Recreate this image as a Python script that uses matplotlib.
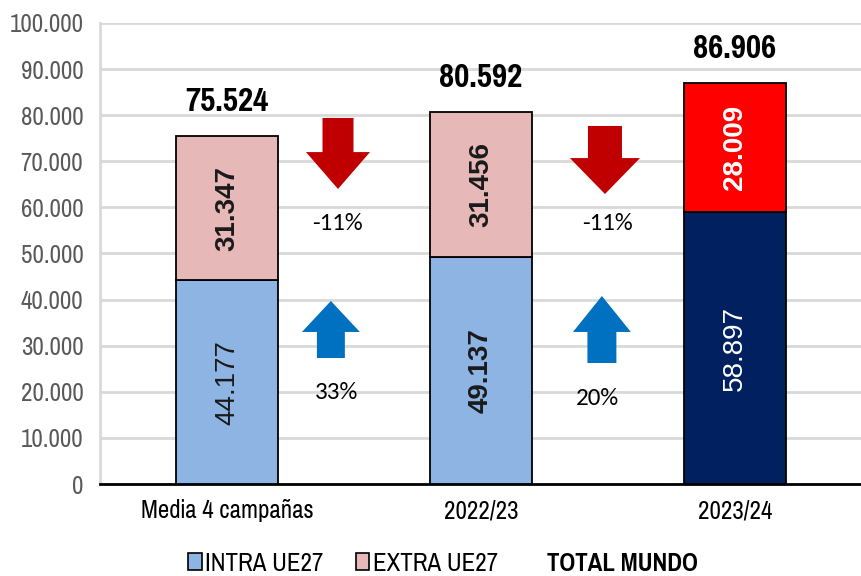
import matplotlib
matplotlib.use("Agg")
import matplotlib.pyplot as plt
from matplotlib.patches import FancyArrow, Patch
from matplotlib.ticker import FuncFormatter, MultipleLocator

# ---- data ----
categories = ["Media 4 campañas", "2022/23", "2023/24"]
intra_ue27 = [44177, 49137, 58897]
extra_ue27 = [31347, 31456, 28009]
total_mundo = [75524, 80592, 86906]
pct_extra = ["-11%", "-11%"]
pct_intra = ["33%", "20%"]
series_names = ["INTRA UE27", "EXTRA UE27", "TOTAL MUNDO"]

# ---- style ----
NARROW = ["Nimbus Sans Narrow", "Pragati Narrow", "Archivo Narrow", "Roboto Condensed",
          "Liberation Sans", "DejaVu Sans"]
REG = ["Arimo", "Liberation Sans", "DejaVu Sans"]
CAL = ["Carlito", "Lato", "DejaVu Sans"]
intra_colors = ["#8EB4E3", "#8EB4E3", "#002060"]
extra_colors = ["#E6B9B8", "#E6B9B8", "#FF0000"]
intra_text = ["#1a1a1a", "#1a1a1a", "white"]
extra_text = ["#1a1a1a", "#1a1a1a", "white"]
intra_weight = ["normal", "bold", "normal"]
extra_weight = ["bold", "bold", "bold"]

fig = plt.figure(figsize=(8.62, 5.76), dpi=100)
ax = fig.add_axes([100 / 862, 1 - 484 / 576, 762 / 862, (484 - 23) / 576])

x = list(range(len(categories)))
ax.bar(x, intra_ue27, width=0.4, color=intra_colors, edgecolor="black", linewidth=1.3, zorder=3)
ax.bar(x, extra_ue27, width=0.4, bottom=intra_ue27, color=extra_colors,
       edgecolor="black", linewidth=1.3, zorder=3)

for i in x:
    ax.text(i, intra_ue27[i] / 2, f"{intra_ue27[i]:,}".replace(",", "."), rotation=90,
            ha="center", va="center", fontsize=20, family=REG, color=intra_text[i],
            fontweight=intra_weight[i], zorder=4)
    ax.text(i, intra_ue27[i] + extra_ue27[i] / 2, f"{extra_ue27[i]:,}".replace(",", "."),
            rotation=90, ha="center", va="center", fontsize=20, family=REG,
            color=extra_text[i], fontweight=extra_weight[i], zorder=4)
    ax.annotate(f"{total_mundo[i]:,}".replace(",", "."), (i, total_mundo[i]),
                xytext=(0, 18), textcoords="offset points", ha="center", va="baseline",
                fontsize=26, fontweight="bold", family=NARROW, color="black")

# arrows (layout decorations)
red_arrows = [(0.437, 79400, -15400, 0.122, 0.252, 8000),
              (1.488, 77660, -14760, 0.134, 0.276, 7800)]
blue_arrows = [(0.409, 27330, 12370, 0.110, 0.228, 6720),
               (1.476, 26250, 14530, 0.114, 0.228, 7800)]
for (ax0, y0, dy, w, hw, hl) in red_arrows:
    ax.add_patch(FancyArrow(ax0, y0, 0, dy, width=w, head_width=hw, head_length=hl,
                            length_includes_head=True, color="#C00000", lw=0, zorder=4))
for (ax0, y0, dy, w, hw, hl) in blue_arrows:
    ax.add_patch(FancyArrow(ax0, y0, 0, dy, width=w, head_width=hw, head_length=hl,
                            length_includes_head=True, color="#0070C0", lw=0, zorder=4))

pct_extra_pos = [(0.433, 56400), (1.496, 56400)]
pct_intra_pos = [(0.433, 19740), (1.457, 18650)]
for lab, (px, py) in zip(pct_extra, pct_extra_pos):
    ax.text(px, py, lab, ha="center", va="center", fontsize=18, family=CAL, color="black")
for lab, (px, py) in zip(pct_intra, pct_intra_pos):
    ax.text(px, py, lab, ha="center", va="center", fontsize=18, family=CAL, color="black")

ax.set_xlim(-0.5, 2.5)
ax.set_ylim(0, 100000)
ax.yaxis.set_major_locator(MultipleLocator(10000))
ax.yaxis.set_major_formatter(FuncFormatter(lambda v, p: f"{v:,.0f}".replace(",", ".")))
ax.grid(axis="y", color="#d9d9d9", linewidth=2, zorder=0)
ax.set_axisbelow(True)
ax.set_xticks(x)
ax.set_xticklabels(categories)
ax.tick_params(axis="both", length=0)
ax.tick_params(axis="y", pad=12, labelcolor="#595959", labelsize=19.5)
ax.tick_params(axis="x", pad=11, labelcolor="black", labelsize=19.5)
for lab in ax.get_yticklabels() + ax.get_xticklabels():
    lab.set_family(NARROW)
for s in ["top", "right"]:
    ax.spines[s].set_visible(False)
ax.spines["left"].set_color("#d9d9d9")
ax.spines["left"].set_linewidth(2)
ax.spines["bottom"].set_color("black")
ax.spines["bottom"].set_linewidth(2)

handles = [Patch(facecolor="#8EB4E3", edgecolor="black", linewidth=1.2),
           Patch(facecolor="#E6B9B8", edgecolor="black", linewidth=1.2),
           Patch(facecolor="none", edgecolor="none")]
leg = fig.legend(handles, series_names, loc="center", bbox_to_anchor=(0.514, 0.022), ncol=3,
                 frameon=False, handlelength=0.5, handleheight=0.6, handletextpad=0.12,
                 columnspacing=1.2, borderpad=0, prop={"family": NARROW, "size": 19.5})
leg.get_texts()[2].set_fontweight("bold")

fig.savefig("out.png", dpi=100, facecolor="white")
